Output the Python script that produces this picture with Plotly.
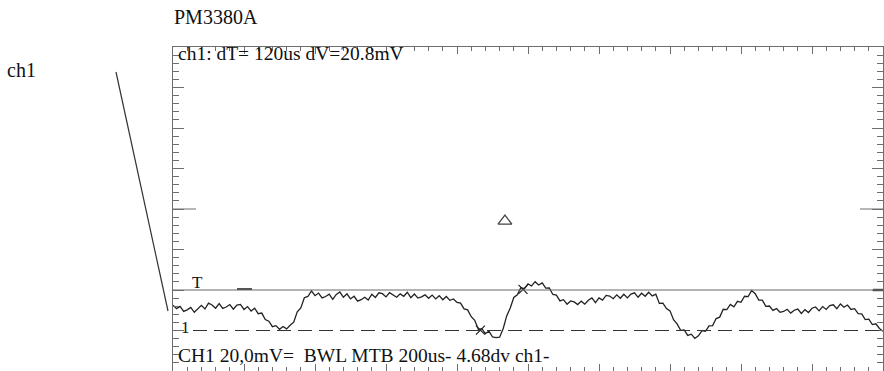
import plotly.graph_objects as go

# ---- data ----
time_us = list(range(0, 2001, 10))
voltage_mv = [
    12.5, 10.8, 11.9, 9.4, 10.2, 11.4, 9.0, 10.9, 12.4, 10.6,
    13.5, 12.6, 11.0, 13.3, 10.9, 11.6, 12.8, 10.5, 12.6, 12.9,
    10.4, 11.8,
    9.6, 11.0, 8.3, 8.6, 5.4, 4.6, 1.9, 2.4, 0.6, 2.0,
    0.8, 2.6, 4.1, 9.2, 11.1, 16.2, 16.8, 19.6,
    17.2, 18.5, 16.1, 16.8, 17.9, 15.4, 17.8, 19.0, 16.4, 18.1,
    15.6, 16.9, 14.5, 15.2, 16.4, 15.0, 17.9, 16.3, 18.6, 18.2,
    16.6, 18.7, 17.4, 16.4, 18.1, 16.9, 18.9, 16.2, 18.0, 16.0,
    16.6, 17.6, 15.9, 17.5, 15.6, 17.2, 15.2, 16.8, 14.9, 15.6,
    13.9, 13.5,
    10.7, 10.2, 6.8, 5.0, 0.6, 0.9, -1.5, -0.3, -3.2, -3.5,
    -3.3, 0.9, 7.2, 11.1, 16.3, 17.6, 21.2, 20.6, 23.0, 22.0,
    24.1, 22.5, 23.5, 20.9, 21.0, 17.8, 17.5, 14.6,
    15.2, 13.0, 14.6, 14.1, 12.8, 14.5, 13.0, 14.9, 16.1, 13.8,
    16.1, 15.0, 17.3, 17.0, 15.7, 17.6, 15.9, 17.9, 16.1, 18.0,
    18.6, 16.4, 18.4, 16.9, 18.9, 17.1, 17.9,
    13.4, 13.5, 10.8, 9.7, 5.3, 3.3, 0.1, 0.3, -2.4, -1.8,
    -3.9, -2.6, -0.1, -0.4, 2.3, 2.4, 5.9, 6.6, 10.5, 10.3,
    12.9, 11.7, 14.4, 13.9, 16.9, 16.7, 19.8, 18.2, 15.0, 15.0,
    11.9, 12.1,
    9.9, 10.8, 9.0, 9.4, 10.5, 8.6, 10.0, 10.6, 8.4, 10.3,
    8.9, 11.0, 11.6, 9.7, 11.8, 10.4, 12.3, 12.7, 10.8, 13.1,
    11.5, 12.6, 10.4,
    10.8, 8.3, 8.2, 5.4, 5.6, 2.9, 3.3, 1.0, -0.4,
]
cursor_t_us = [866, 986]
cursor_v_mv = [0.2, 20.3]
trigger_pos_t_us = [935]
trigger_pos_v_mv = [54]
trigger_level_mv = 20
ground_level_mv = 0
x_range_us = [0, 2000]
y_range_mv = [-20, 140]
div_x_us = 200
div_y_mv = 20

title_text = "PM3380A"
channel_text = "ch1"
cursor_text = "ch1: dT= 120us dV=20.8mV"
status_text = "CH1 20,0mV=\u00a0 BWL MTB 200us- 4.68dv ch1-"
trig_label = "T"
gnd_label = "1"

# ---- figure ----
W, H = 884, 371
L, R, T, B = 173, 1, 47, 0
PW, PH = W - L - R, H - T - B
GRID = "#6e6e6e"
FONT = "Liberation Serif"


def px_x(p):
    return (p - L) / PW


def px_y(p):
    return (H - B - p) / PH


fig = go.Figure()
fig.add_trace(go.Scatter(x=time_us, y=voltage_mv, mode="lines",
                         line=dict(color="#222222", width=1.3),
                         hoverinfo="skip", showlegend=False))
fig.add_trace(go.Scatter(x=cursor_t_us, y=cursor_v_mv, mode="markers",
                         marker=dict(symbol="x-thin", size=9,
                                     line=dict(color="#222222", width=1.2)),
                         showlegend=False))
fig.add_trace(go.Scatter(x=trigger_pos_t_us, y=trigger_pos_v_mv, mode="markers",
                         marker=dict(symbol="triangle-up-open", size=12,
                                     color="#444", line=dict(width=1.3)),
                         showlegend=False))

shapes = []
shapes.append(dict(type="line", xref="paper", yref="y", x0=0, x1=1,
                   y0=trigger_level_mv, y1=trigger_level_mv,
                   line=dict(color="#6a6a6a", width=1.2)))
shapes.append(dict(type="line", xref="paper", yref="y", x0=px_x(237), x1=px_x(252),
                   y0=trigger_level_mv + 0.5, y1=trigger_level_mv + 0.5,
                   line=dict(color="#555", width=2)))
shapes.append(dict(type="line", xref="paper", yref="y", x0=px_x(873), x1=1,
                   y0=trigger_level_mv, y1=trigger_level_mv,
                   line=dict(color="#555", width=2.5)))
shapes.append(dict(type="line", xref="paper", yref="y", x0=px_x(193), x1=1,
                   y0=ground_level_mv, y1=ground_level_mv,
                   line=dict(color="#333", width=1.2, dash="14px,7px")))
ymid = (y_range_mv[0] + y_range_mv[1]) / 2
shapes.append(dict(type="line", xref="paper", yref="y", x0=0, x1=23 / PW,
                   y0=ymid, y1=ymid, line=dict(color=GRID, width=1)))
shapes.append(dict(type="line", xref="paper", yref="y", x0=1 - 23 / PW, x1=1,
                   y0=ymid, y1=ymid, line=dict(color=GRID, width=1)))
shapes.append(dict(type="line", xref="paper", yref="paper",
                   x0=px_x(116), y0=px_y(72), x1=px_x(168), y1=px_y(311),
                   line=dict(color="#333", width=1.2)))

annotations = [
    dict(text=title_text, xref="paper", yref="paper", x=px_x(172), y=px_y(17),
         xanchor="left", yanchor="middle", showarrow=False,
         font=dict(family=FONT, size=20, color="#111")),
    dict(text=channel_text, xref="paper", yref="paper", x=px_x(5), y=px_y(70),
         xanchor="left", yanchor="middle", showarrow=False,
         font=dict(family=FONT, size=20, color="#111")),
    dict(text=cursor_text, xref="paper", yref="paper", x=px_x(176), y=px_y(54),
         xanchor="left", yanchor="middle", showarrow=False,
         font=dict(family=FONT, size=19.5, color="#111")),
    dict(text=status_text, xref="paper", yref="paper", x=px_x(176), y=px_y(355),
         xanchor="left", yanchor="middle", showarrow=False,
         font=dict(family=FONT, size=19.5, color="#111")),
    dict(text=trig_label, xref="paper", yref="paper", x=px_x(197), y=px_y(282),
         xanchor="center", yanchor="middle", showarrow=False,
         font=dict(family=FONT, size=17, color="#111")),
    dict(text=gnd_label, xref="paper", yref="paper", x=px_x(185), y=px_y(327),
         xanchor="center", yanchor="middle", showarrow=False,
         font=dict(family=FONT, size=17, color="#111")),
]

axis_common = dict(showline=True, linecolor=GRID, linewidth=1.2, mirror="allticks",
                   ticks="inside", tickcolor=GRID, tickwidth=1,
                   showticklabels=False, showgrid=False, zeroline=False,
                   fixedrange=True)

fig.update_layout(
    width=W, height=H,
    margin=dict(l=L, r=R, t=T, b=B, pad=0),
    paper_bgcolor="white", plot_bgcolor="white",
    xaxis=dict(range=x_range_us, tick0=0, dtick=div_x_us, ticklen=7,
               minor=dict(ticks="inside", dtick=div_x_us / 5, ticklen=4,
                          tickcolor=GRID, tickwidth=1, showgrid=False),
               **axis_common),
    yaxis=dict(range=y_range_mv, tick0=y_range_mv[0], dtick=div_y_mv, ticklen=11,
               minor=dict(ticks="inside", dtick=div_y_mv / 5, ticklen=6,
                          tickcolor=GRID, tickwidth=1, showgrid=False),
               **axis_common),
    shapes=shapes,
    annotations=annotations,
    showlegend=False,
)

fig.write_html("out.html")
